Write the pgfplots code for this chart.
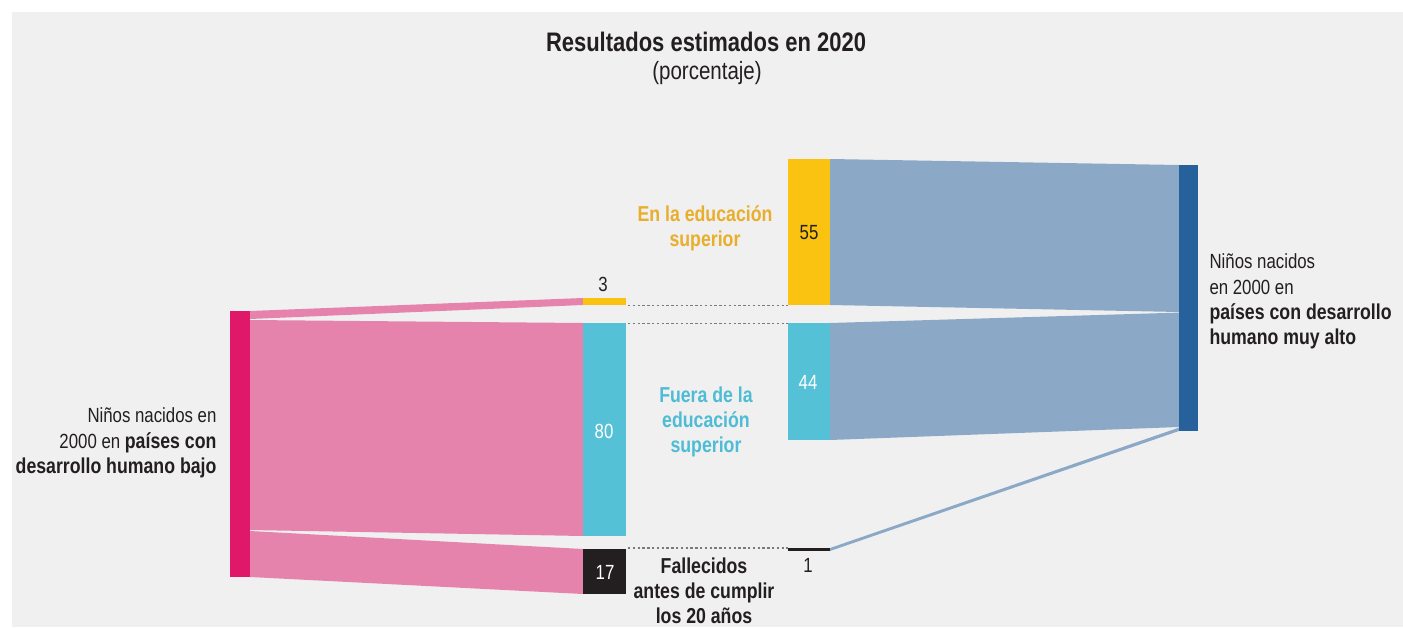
\documentclass[border=0pt]{standalone}
\usepackage{pgfplots}
\pgfplotsset{compat=1.18}
\usepackage{fontspec}
\setmainfont{Liberation Sans}[FakeStretch=0.82]
\setsansfont{Liberation Sans}[FakeStretch=0.82]

\definecolor{bg}{HTML}{F0F0F0}
\definecolor{magenta}{HTML}{E0186A}
\definecolor{pinkflow}{HTML}{E683AD}
\definecolor{yel}{HTML}{FAC312}
\definecolor{yeltext}{HTML}{E8AE2C}
\definecolor{cya}{HTML}{55C1D6}
\definecolor{cyatext}{HTML}{4DBCD4}
\definecolor{blk}{HTML}{231F20}
\definecolor{blueflow}{HTML}{8BA8C7}
\definecolor{bluenode}{HTML}{26619B}
\definecolor{dots}{HTML}{7A7A7A}

\newcommand{\lbl}{\fontsize{20.5}{24}\selectfont}
\newcommand{\blbl}{\fontsize{21.6}{25}\selectfont\bfseries}

\begin{document}
\begin{tikzpicture}
\begin{axis}[
  width=1403pt, height=627pt, scale only axis,
  xmin=0, xmax=1403, ymin=0, ymax=627, y dir=reverse,
  hide axis, clip=false,
  every axis plot/.append style={draw=none},
  ]
  % page and panel
  \addplot[fill=white] coordinates {(0,0) (1403,0) (1403,627) (0,627)} --cycle;
  \addplot[fill=bg] coordinates {(12,12) (1403,12) (1403,627) (12,627)} --cycle;

  % flows from low HDI
  \addplot[fill=pinkflow] coordinates {(250,311) (583,298) (583,305) (250,319)} --cycle;
  \addplot[fill=pinkflow] coordinates {(250,320) (583,323) (583,536) (250,530)} --cycle;
  \addplot[fill=pinkflow] coordinates {(250,531) (583,549) (583,594) (250,577)} --cycle;

  % flows to very high HDI
  \addplot[fill=blueflow] coordinates {(830,159) (1179,165) (1179,312) (830,305)} --cycle;
  \addplot[fill=blueflow] coordinates {(830,323) (1179,312.6) (1179,427) (830,440)} --cycle;
  \addplot[fill=blueflow] coordinates {(830,548) (1179,427.6) (1179,431) (830,551)} --cycle;

  % nodes
  \addplot[fill=magenta] coordinates {(230,311) (250,311) (250,577) (230,577)} --cycle;
  \addplot[fill=yel] coordinates {(583,298) (626,298) (626,305) (583,305)} --cycle;
  \addplot[fill=cya] coordinates {(583,323) (626,323) (626,536) (583,536)} --cycle;
  \addplot[fill=blk] coordinates {(583,549) (626,549) (626,594) (583,594)} --cycle;
  \addplot[fill=yel] coordinates {(788,159) (830,159) (830,305) (788,305)} --cycle;
  \addplot[fill=cya] coordinates {(788,323) (830,323) (830,440) (788,440)} --cycle;
  \addplot[fill=blk] coordinates {(788,548) (830,548) (830,551) (788,551)} --cycle;
  \addplot[fill=bluenode] coordinates {(1179,165) (1198,165) (1198,431) (1179,431)} --cycle;

  % dotted connectors
  \addplot[draw=dots, dash pattern=on 2.4pt off 2.4pt, line width=1.7pt] coordinates {(628,305.5) (788,305.5)};
  \addplot[draw=dots, dash pattern=on 2.4pt off 2.4pt, line width=1.7pt] coordinates {(628,323.5) (788,323.5)};
  \addplot[draw=dots, dash pattern=on 2.4pt off 2.4pt, line width=1.7pt] coordinates {(628,548) (788,548)};

  % titles
  \node[anchor=base, text=blk, font=\fontsize{26.8}{30}\selectfont\bfseries] at (axis cs:706,51) {Resultados estimados en 2020};
  \node[anchor=base, text=blk, font=\fontsize{25}{28}\selectfont] at (axis cs:707,79) {(porcentaje)};

  % left label
  \node[anchor=base east, text=blk, font=\lbl] at (axis cs:220,422) {Niños nacidos en};
  \node[anchor=base east, text=blk, font=\lbl] at (axis cs:220,448) {2000 en {\blbl países con}};
  \node[anchor=base east, text=blk, font=\blbl] at (axis cs:220,473) {desarrollo humano bajo};

  % right label
  \node[anchor=base west, text=blk, font=\lbl] at (axis cs:1206,268) {Niños nacidos};
  \node[anchor=base west, text=blk, font=\lbl] at (axis cs:1206,294) {en 2000 en};
  \node[anchor=base west, text=blk, font=\blbl] at (axis cs:1206,319) {países con desarrollo};
  \node[anchor=base west, text=blk, font=\blbl] at (axis cs:1206,344) {humano muy alto};

  % category labels
  \node[anchor=base, text=yeltext, font=\blbl] at (axis cs:705,221) {En la educación};
  \node[anchor=base, text=yeltext, font=\blbl] at (axis cs:705,246) {superior};
  \node[anchor=base, text=cyatext, font=\blbl] at (axis cs:706,402) {Fuera de la};
  \node[anchor=base, text=cyatext, font=\blbl] at (axis cs:706,427) {educación};
  \node[anchor=base, text=cyatext, font=\blbl] at (axis cs:706,452) {superior};
  \node[anchor=base, text=blk, font=\blbl] at (axis cs:704,573) {Fallecidos};
  \node[anchor=base, text=blk, font=\blbl] at (axis cs:704,598) {antes de cumplir};
  \node[anchor=base, text=blk, font=\blbl] at (axis cs:704,623) {los 20 años};

  % values
  \node[anchor=base, text=blk, font=\lbl] at (axis cs:603,291) {3};
  \node[anchor=base, text=white, font=\lbl] at (axis cs:604,438) {80};
  \node[anchor=base, text=white, font=\lbl] at (axis cs:605,579) {17};
  \node[anchor=base, text=blk, font=\lbl] at (axis cs:809,239) {55};
  \node[anchor=base, text=white, font=\lbl] at (axis cs:808,389) {44};
  \node[anchor=base, text=blk, font=\lbl] at (axis cs:808,572) {1};
\end{axis}
\end{tikzpicture}
\end{document}
